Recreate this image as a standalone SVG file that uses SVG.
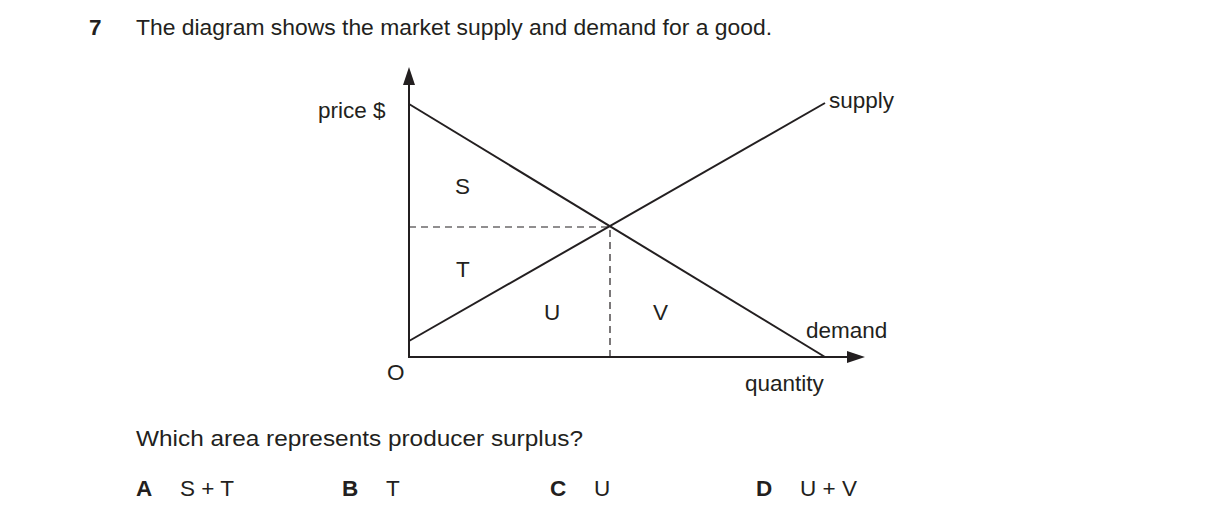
<svg xmlns="http://www.w3.org/2000/svg" width="1216" height="521" viewBox="0 0 1216 521">
<style>
text{font-family:"Liberation Sans",Arial,sans-serif;font-size:22.5px;fill:#231f20}
.b{font-weight:bold}
.l{stroke:#231f20;stroke-width:2;fill:none}
.d{stroke:#231f20;stroke-width:1.2;fill:none;stroke-dasharray:7,5}
</style>
<rect width="1216" height="521" fill="#fff"/>
<text class="b" x="89" y="35">7</text>
<text x="136" y="35" textLength="636" lengthAdjust="spacingAndGlyphs">The diagram shows the market supply and demand for a good.</text>
<g id="connectors">
<path class="l" d="M409,84 V357 H848"/>
<path d="M409,67 L403,85 L415,85 Z M865,357 L847,351 L847,363 Z" fill="#231f20"/>
<path class="l" d="M409,104 L825,357"/>
<path class="l" d="M409,341 L825,103"/>
<path class="d" d="M409,227 H610 V357"/>
</g>
<g id="labels">
<text x="318" y="118">price $</text>
<text x="829" y="108">supply</text>
<text x="806" y="338">demand</text>
<text x="745" y="391">quantity</text>
<text x="387" y="380">O</text>
<text x="455" y="194">S</text>
<text x="456" y="277">T</text>
<text x="544" y="320">U</text>
<text x="653" y="320">V</text>
</g>
<text x="136" y="446" textLength="447" lengthAdjust="spacingAndGlyphs">Which area represents producer surplus?</text>
<text class="b" x="136" y="496">A</text><text x="180" y="496">S + T</text>
<text class="b" x="342" y="496">B</text><text x="386" y="496">T</text>
<text class="b" x="550" y="496">C</text><text x="594" y="496">U</text>
<text class="b" x="756" y="496">D</text><text x="800" y="496">U + V</text>
</svg>
